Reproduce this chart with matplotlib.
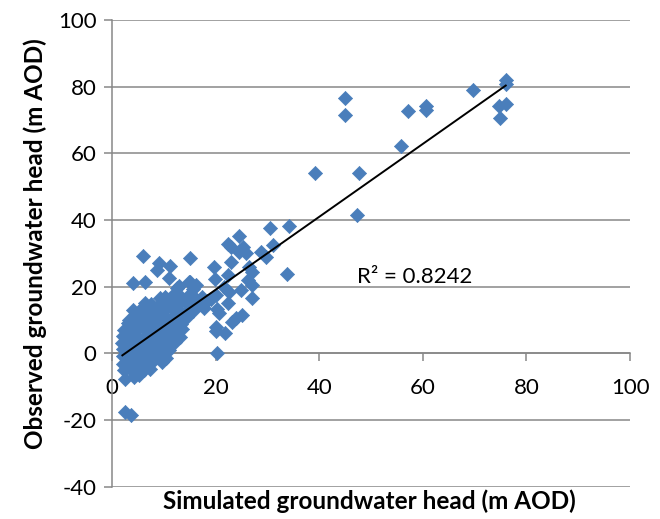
import matplotlib
matplotlib.use("Agg")
import matplotlib.pyplot as plt
import numpy as np

plt.rcParams['font.family'] = ['Lato', 'DejaVu Sans']
plt.rcParams['axes.unicode_minus'] = False

# Dense cluster near the origin (simulated, observed)
cluster_sim = [12.6, 13.0, 14.8, 16.3, 15.6,
               10.3, 11.8, 13.3, 14.7, 16.0, 17.4,
               7.6, 9.0, 10.4, 11.8, 13.2, 14.7, 16.2,
               5.6, 7.2, 8.6, 10.1, 11.7, 13.2, 14.6, 15.6,
               4.2, 5.7, 7.1, 8.7, 10.2, 11.6, 13.1, 14.4,
               3.1, 4.6, 6.1, 7.6, 9.1, 10.6, 12.1, 13.4,
               2.3, 3.6, 5.1, 6.6, 8.1, 9.6, 11.1, 12.4, 13.6,
               2.1, 3.1, 4.6, 6.1, 7.6, 9.1, 10.6, 11.6, 13.2,
               2.0, 2.9, 4.1, 5.6, 7.1, 8.6, 10.1, 11.0, 12.2,
               2.1, 3.0, 4.1, 5.6, 7.1, 8.6, 9.8, 11.0,
               2.2, 3.1, 4.2, 5.7, 7.2, 8.7, 9.6, 10.4,
               2.2, 3.2, 4.4, 5.9, 7.4, 9.6,
               2.3, 3.4, 4.6, 6.1, 7.3,
               2.5, 4.3, 5.2,
               18.3, 17.8]
cluster_obs = [19.6, 20.3, 21.4, 20.5, 19.2,
               16.9, 17.4, 16.8, 17.3, 16.6, 17.0,
               14.7, 14.5, 15.3, 14.7, 15.3, 14.9, 15.2,
               13.2, 12.8, 13.4, 12.9, 13.3, 12.7, 13.1, 12.6,
               11.1, 10.8, 11.3, 10.9, 11.2, 10.7, 11.1, 10.8,
               9.2, 8.8, 9.3, 8.9, 9.1, 8.7, 9.2, 8.8,
               7.1, 6.8, 7.2, 6.9, 7.3, 6.8, 7.1, 6.7, 7.4,
               5.2, 4.8, 5.1, 4.7, 5.3, 4.9, 5.2, 4.8, 5.0,
               3.1, 2.8, 3.2, 2.9, 3.1, 2.7, 3.2, 2.9, 3.3,
               1.2, 0.8, 1.1, 0.7, 1.2, 0.9, 1.1, 1.0,
               -0.9, -1.2, -0.8, -1.1, -0.9, -1.2, -0.8, -1.5,
               -3.1, -2.8, -3.2, -2.9, -3.1, -2.6,
               -5.1, -4.8, -5.2, -4.9, -4.6,
               -7.6, -7.1, -6.5,
               15.8, 13.6]

# Scattered points between 0 and 35 m
spread_sim = [6.0, 15.1, 9.0, 11.1, 8.7, 11.0, 4.1, 6.4, 15.1, 9.3,
              6.4, 4.1, 3.2, 6.1, 2.5, 3.6, 11.3,
              19.7, 19.9, 19.2, 20.2, 20.0, 20.6, 20.0, 21.9, 20.0, 20.3,
              22.3, 23.9, 23.2, 25.0, 21.6, 22.6, 24.9, 27.1, 26.2, 27.1,
              22.3, 22.9, 26.5, 27.1, 33.8,
              24.5, 22.3, 25.2, 25.8, 24.5, 31.0, 28.7, 29.7, 30.5, 34.2, 22.9]
spread_obs = [29.2, 28.5, 27.0, 26.2, 25.0, 22.5, 21.2, 21.5, 21.5, 16.5,
              15.0, 13.0, 10.0, 12.0, -17.5, -18.5, 3.0,
              25.8, 22.2, 16.2, 13.2, 17.6, 12.0, 8.0, 6.0, 6.6, 0.0,
              15.0, 10.5, 9.5, 11.5, 20.0, 18.5, 19.0, 16.5, 22.0, 20.5,
              23.5, 27.5, 26.0, 24.5, 23.7,
              35.2, 32.8, 32.0, 30.0, 30.5, 32.5, 30.5, 29.0, 37.5, 38.2, 32.0]

# High-head boreholes
high_sim = [39.1, 44.9, 44.9, 47.6, 47.2, 55.8, 57.1, 60.6, 60.6,
            69.7, 76.0, 76.0, 74.7, 76.0, 74.8]
high_obs = [54.0, 76.6, 71.6, 54.0, 41.5, 62.3, 72.6, 74.1, 72.9,
            78.9, 82.1, 80.9, 74.1, 74.8, 70.6]

# Linear trendline
trend_slope = 1.094
trend_intercept = -2.8
r2_label = "R² = 0.8242"

sim = np.array(cluster_sim + spread_sim + high_sim)
obs = np.array(cluster_obs + spread_obs + high_obs)

fig = plt.figure(figsize=(6.6, 5.19), dpi=100)
ax = fig.add_axes([0.1697, 0.0624, 0.785, 0.899])

grey = '#878787'
ax.set_xlim(0, 100)
ax.set_ylim(-40, 100)
ax.set_xticks(np.arange(0, 101, 20))
ax.set_yticks(np.arange(-40, 101, 20))
ax.yaxis.grid(True, color=grey, linewidth=1.1)
ax.set_axisbelow(True)

ax.spines['top'].set_visible(False)
ax.spines['right'].set_visible(False)
ax.spines['bottom'].set_position(('data', 0))
for s in ('left', 'bottom'):
    ax.spines[s].set_color(grey)
    ax.spines[s].set_linewidth(1.1)
ax.tick_params(axis='both', colors=grey, labelcolor='black', labelsize=16,
               length=6, width=1.1, direction='out')
ax.tick_params(axis='x', pad=12)
ax.tick_params(axis='y', pad=5)

ax.scatter(sim, obs, marker='D', s=52, color='#4a7ebb', edgecolors='#4a7ebb',
           linewidths=0.5, zorder=3)

tx = np.array([sim.min(), sim.max()])
ax.plot(tx, trend_slope * tx + trend_intercept, color='black', linewidth=1.4, zorder=4)
ax.text(47.2, 21.2, r2_label, fontsize=16, va='baseline', ha='left')

fig.text(0.56, 0.035, 'Simulated groundwater head (m AOD)', fontsize=17.5,
         fontweight='bold', ha='center', va='center')
fig.text(0.053, 0.53, 'Observed groundwater head (m AOD)', fontsize=17.5,
         fontweight='bold', ha='center', va='center', rotation=90)

fig.savefig('out.png', dpi=100)
